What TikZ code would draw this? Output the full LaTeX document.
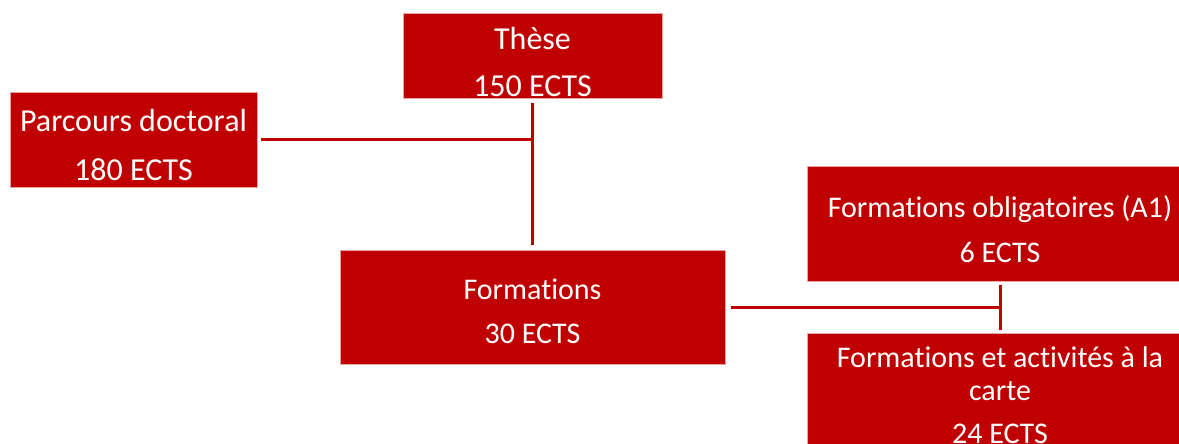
\documentclass[tikz,border=0pt]{standalone}
\usepackage{fontspec}
\setmainfont{Carlito}[Ligatures=NoCommon]
\definecolor{rouge}{RGB}{192,0,0}

\begin{document}
\begin{tikzpicture}[x=1pt, y=-1pt,
        bloc/.style={rectangle, fill=rouge, draw=rouge!35, line width=0.5pt, inner sep=0pt},
        txt/.style={text=white, align=center, inner sep=0pt, font=\fontsize{30}{34}\selectfont},
        grand/.style={txt, font=\fontsize{32}{36}\selectfont},
        lien/.style={draw=rouge, line width=3pt}]
        \useasboundingbox (0,0) rectangle (1179,444);
        % les blocs
        \node[bloc, minimum width=259pt, minimum height=85pt,
              label={[grand, yshift=-6pt]center:{Thèse\\[11pt]150 ECTS}}] (these) at (532.5,55.5) {};
        \node[bloc, minimum width=247pt, minimum height=95pt,
              label={[grand, yshift=-6pt]center:{Parcours doctoral\\[13pt]180 ECTS}}] (parcours) at (133.5,139.5) {};
        \node[bloc, minimum width=385pt, minimum height=114pt,
              label={[txt, yshift=-4pt]center:{Formations\\[10pt]30 ECTS}}] (formations) at (532.5,307) {};
        \node[bloc, minimum width=386pt, minimum height=115pt,
              label={[txt, yshift=-6pt]center:{Formations obligatoires (A1)\\[11pt]6 ECTS}}] (oblig) at (1000,223.5) {};
        \node[bloc, minimum width=386pt, minimum height=124pt,
              label={[txt]center:{Formations et activités à la\\[-1pt]carte\\[9pt]24 ECTS}}] (carte) at (1000,395) {};
        % les liens
        \draw[lien, shorten <=5pt, shorten >=5pt] (these) -- (formations);
        \draw[lien, shorten <=4pt] (parcours) -- (parcours -| these);
        \draw[lien, shorten <=6pt] (formations) -- (formations -| oblig);
        \draw[lien, shorten <=4pt, shorten >=3pt] (oblig) -- (carte);
\end{tikzpicture}
\end{document}
